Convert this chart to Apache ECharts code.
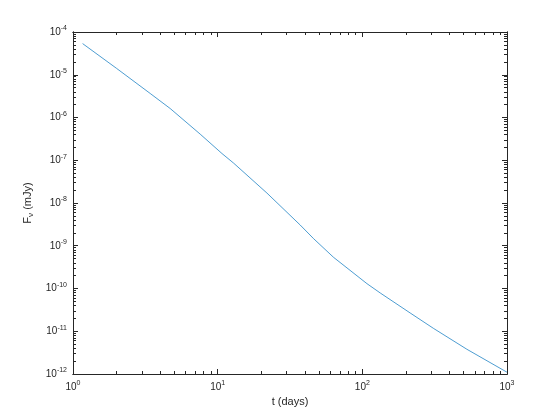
<!DOCTYPE html>
<html>
<head>
<meta charset="utf-8">
<script src="https://cdn.jsdelivr.net/npm/echarts@6/dist/echarts.min.js"></script>
<style>html,body{margin:0;padding:0;background:#fff;}#c{width:560px;height:420px;}</style>
</head>
<body>
<div id="c"></div>
<script>
// Data
const tDays = [1.165, 2.0, 3.42, 4.70, 7.58, 10.7, 12.9, 21.9, 37.2, 46.0, 63.2, 107.6, 133, 214, 310, 528, 1000];
const fluxMJy = [5.36e-5, 1.41e-5, 3.64e-6, 1.62e-6, 4.07e-7, 1.44e-7, 8.55e-8, 1.71e-8, 3.05e-9, 1.47e-9, 5.37e-10, 1.30e-10, 7.85e-11, 2.68e-11, 1.17e-11, 3.79e-12, 1.10e-12];

const xMajorTicks = [1, 10, 100, 1000];
const yMajorTicks = [1e-12, 1e-11, 1e-10, 1e-9, 1e-8, 1e-7, 1e-6, 1e-5, 1e-4];

function minorsBetween(majors) {
  const out = [];
  for (let i = 0; i < majors.length - 1; i++) {
    for (let k = 2; k <= 9; k++) out.push(majors[i] * k);
  }
  return out;
}
const xMinorTicks = minorsBetween(xMajorTicks);
const yMinorTicks = minorsBetween(yMajorTicks);

const AX = '#262626';
const FONT = 'Liberation Sans';

function supFmt(v) {
  const e = Math.round(Math.log10(v));
  return '10{sup|' + e + '}';
}
const richLabel = {
  sup: { fontSize: 7, fontFamily: FONT, color: AX, padding: [0, 0, 7, 0] }
};

function xAx(pos, ticks, len, labels) {
  return {
    type: 'log', logBase: 10, min: 1, max: 1000, position: pos, gridIndex: 0,
    axisLine: { show: true, onZero: false, lineStyle: { color: AX, width: 1 } },
    axisTick: { show: true, inside: true, length: len, customValues: ticks, lineStyle: { color: AX, width: 1 } },
    axisLabel: labels ? { show: true, customValues: ticks, formatter: supFmt, fontSize: 10, fontFamily: FONT, color: AX, margin: 6, rich: richLabel } : { show: false },
    splitLine: { show: false }, minorTick: { show: false }
  };
}
function yAx(pos, ticks, len, labels) {
  return {
    type: 'log', logBase: 10, min: 1e-12, max: 1e-4, position: pos, gridIndex: 0,
    axisLine: { show: true, onZero: false, lineStyle: { color: AX, width: 1 } },
    axisTick: { show: true, inside: true, length: len, customValues: ticks, lineStyle: { color: AX, width: 1 } },
    axisLabel: labels ? { show: true, customValues: ticks, formatter: supFmt, fontSize: 10, fontFamily: FONT, color: AX, margin: 6, rich: richLabel } : { show: false },
    splitLine: { show: false }, minorTick: { show: false }
  };
}

const xAxes = [
  xAx('bottom', xMajorTicks, 5, true),
  xAx('bottom', xMinorTicks, 3, false),
  xAx('top', xMajorTicks, 5, false),
  xAx('top', xMinorTicks, 3, false)
];
xAxes[0].name = 't (days)';
xAxes[0].nameLocation = 'middle';
xAxes[0].nameGap = 18;
xAxes[0].nameTextStyle = { fontSize: 11, fontFamily: FONT, color: AX };

const yAxes = [
  yAx('left', yMajorTicks, 5, true),
  yAx('left', yMinorTicks, 3, false),
  yAx('right', yMajorTicks, 5, false),
  yAx('right', yMinorTicks, 3, false)
];
yAxes[0].name = 'F{sub|ν} (mJy)';
yAxes[0].nameLocation = 'middle';
yAxes[0].nameGap = 35;
yAxes[0].nameRotate = 90;
yAxes[0].nameTextStyle = { fontSize: 11, fontFamily: FONT, color: AX, rich: { sub: { fontSize: 8, fontFamily: FONT, color: AX, padding: [6, 0, 0, 0] } } };

const chart = echarts.init(document.getElementById('c'), null, { renderer: 'canvas' });
chart.setOption({
  backgroundColor: '#ffffff',
  animation: false,
  grid: { left: 73, top: 32, width: 434, height: 342, containLabel: false },
  xAxis: xAxes,
  yAxis: yAxes,
  series: [{
    type: 'line',
    xAxisIndex: 0, yAxisIndex: 0,
    data: tDays.map((t, i) => [t, fluxMJy[i]]),
    showSymbol: false,
    smooth: false,
    lineStyle: { color: '#0072BD', width: 0.7 }
  }]
});
</script>
</body>
</html>
